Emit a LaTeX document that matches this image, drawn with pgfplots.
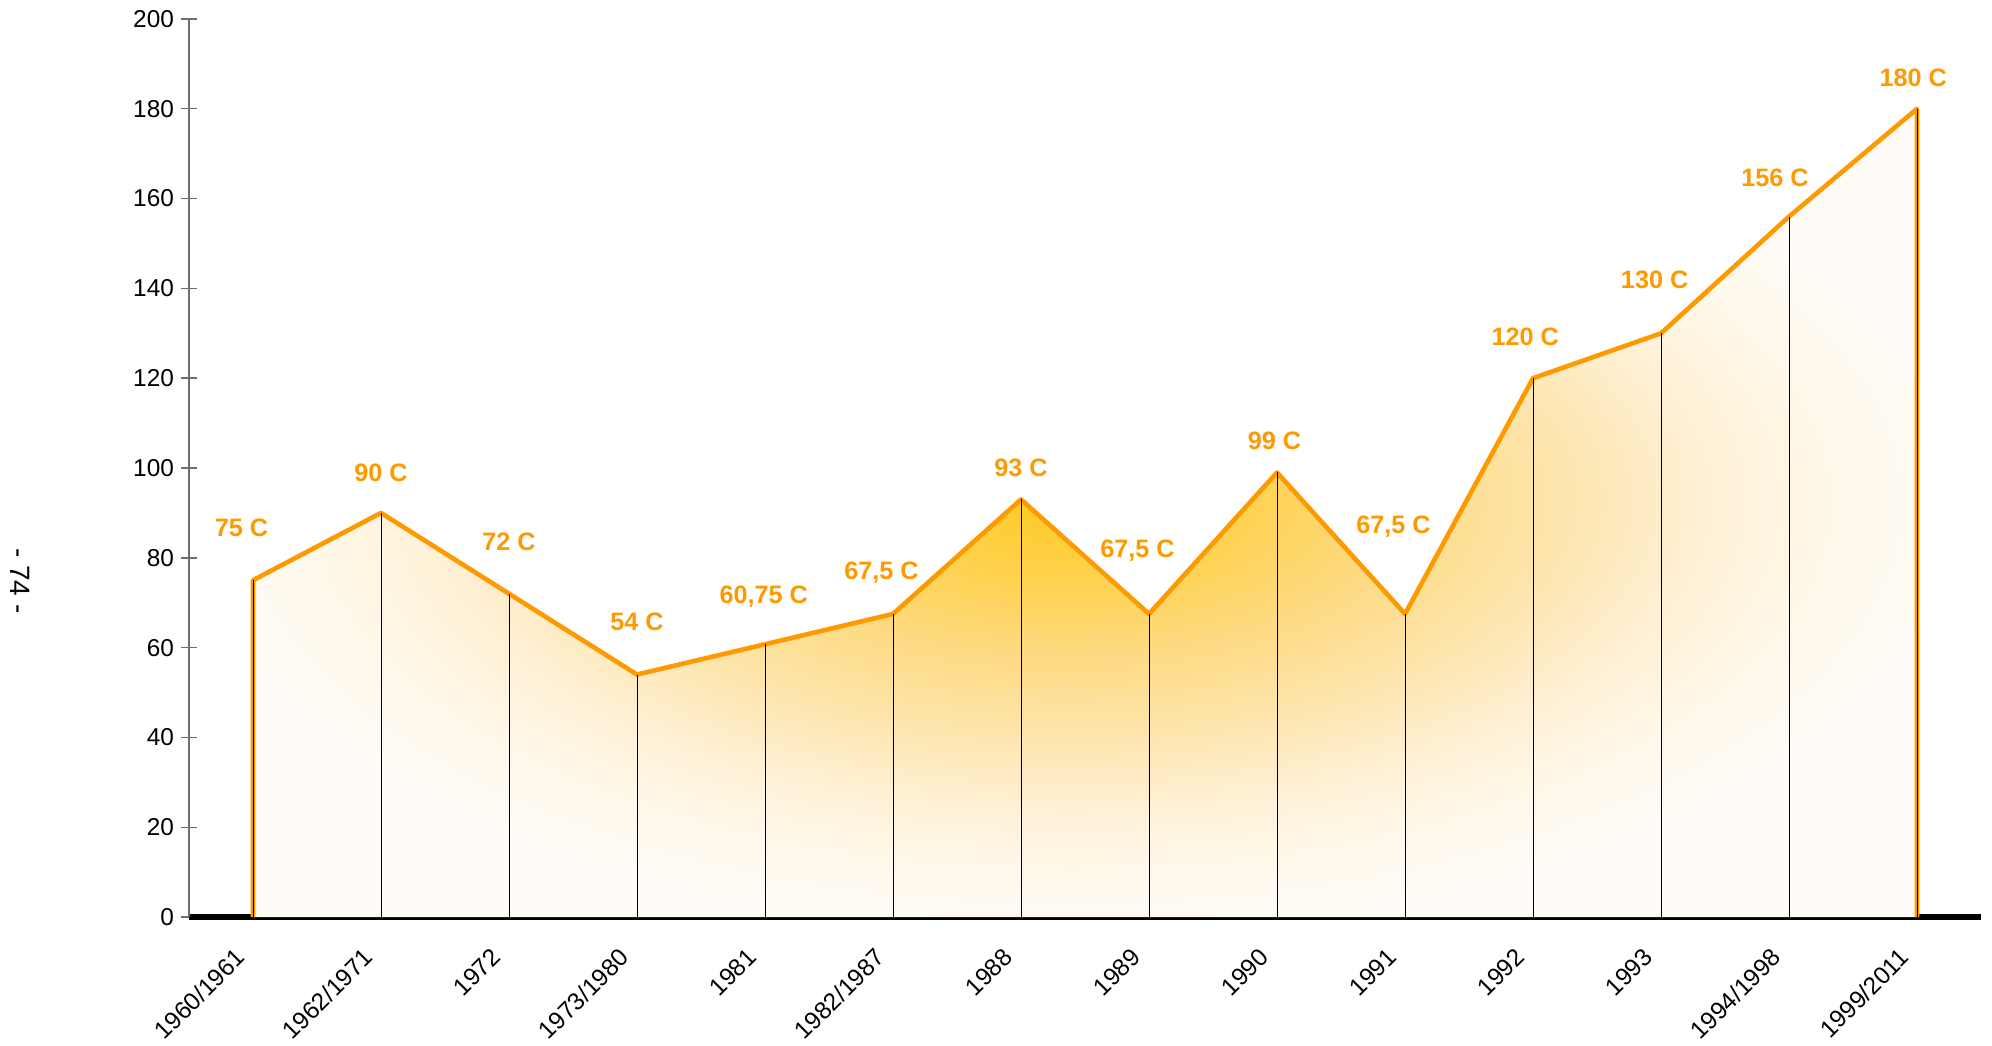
\documentclass[border=0pt]{standalone}
\usepackage{pgfplots}
\pgfplotsset{compat=1.18}
\usepackage{pgfplotstable}
\usepackage{fontspec}
\setmainfont{Liberation Sans}
\definecolor{lineorange}{RGB}{255,153,0}
\definecolor{axgray}{RGB}{110,110,110}
\definecolor{g0}{RGB}{254,200,30}
\definecolor{g1}{RGB}{254,210,80}
\definecolor{g2}{RGB}{253,218,130}
\definecolor{g3}{RGB}{253,228,170}
\definecolor{g4}{RGB}{254,240,212}
\definecolor{g5}{RGB}{255,248,235}
\definecolor{g6}{RGB}{255,252,248}
\pgfdeclareradialshading{glow}{\pgfpoint{-0.75bp}{1.4bp}}{color(0bp)=(g0); color(5.5bp)=(g1); color(10bp)=(g2); color(14.5bp)=(g3); color(19bp)=(g4); color(23bp)=(g5); color(27bp)=(g6); color(50bp)=(g6)}

\pgfplotstableread[col sep=semicolon]{
x;y;lx;ly;label
0;75;-0.09;86.6;75 C
1;90;1.0;98.9;90 C
2;72;2.0;83.5;72 C
3;54;3.0;65.7;54 C
4;60.75;3.99;71.3;60,75 C
5;67.5;4.91;76.6;67,5 C
6;93;6.0;100.1;93 C
7;67.5;6.91;81.7;67,5 C
8;99;7.98;106.0;99 C
9;67.5;8.91;86.9;67,5 C
10;120;9.94;129.2;120 C
11;130;10.95;141.9;130 C
12;156;11.89;164.6;156 C
13;180;12.97;187.0;180 C
}\data

\pgfplotstableread{
x y
0 0
0 75
1 90
2 72
3 54
4 60.75
5 67.5
6 93
7 67.5
8 99
9 67.5
10 120
11 130
12 156
13 180
13 0
}\outline

\begin{document}
\begin{tikzpicture}
\begin{axis}[
  scale only axis,
  width=896pt, height=449pt,
  xmin=-0.5, xmax=13.5,
  ymin=0, ymax=200,
  axis lines=left,
  axis line style={-},
  x axis line style={black, line width=2.6pt},
  y axis line style={axgray, line width=0.7pt},
  ytick={0,20,...,200},
  yticklabel={\pgfmathprintnumber[assume math mode=true]{\tick}},
  tick align=center,
  major tick length=8pt,
  ytick style={axgray, line width=0.7pt},
  xtick={0,...,13},
  xtick style={draw=none},
  xticklabels={1960/1961,1962/1971,1972,1973/1980,1981,1982/1987,1988,1989,1990,1991,1992,1993,1994/1998,1999/2011},
  xticklabel style={font=\fontsize{12.2}{14}\selectfont, inner sep=0pt, xshift=-9.5pt, yshift=-10.6pt, rotate=45, anchor=north east},
  yticklabel style={font=\fontsize{12.2}{14}\selectfont},
  clip=false,
]
\addplot[draw=none, shade, shading=glow] table[x=x,y=y] {\outline} \closedcycle;
\addplot[lineorange, line width=2.3pt, line join=round, mark=none] table[x=x,y=y] {\outline};
\addplot[ycomb, black, line width=0.5pt, mark=none] table[x=x,y=y] {\data};
\addplot[draw=none, mark=none, nodes near coords, point meta=explicit symbolic,
  every node near coord/.append style={anchor=center, font=\bfseries\fontsize{12.6}{14}\selectfont, text=lineorange}]
  table[x=lx, y=ly, meta=label] {\data};
\end{axis}
\node[rotate=-90, font=\fontsize{14}{16}\selectfont] at (-84.5pt,168pt) {- 74 -};
\pgfresetboundingbox
\path (-94.5pt,-64pt) rectangle (901.5pt,458.5pt);
\end{tikzpicture}
\end{document}
